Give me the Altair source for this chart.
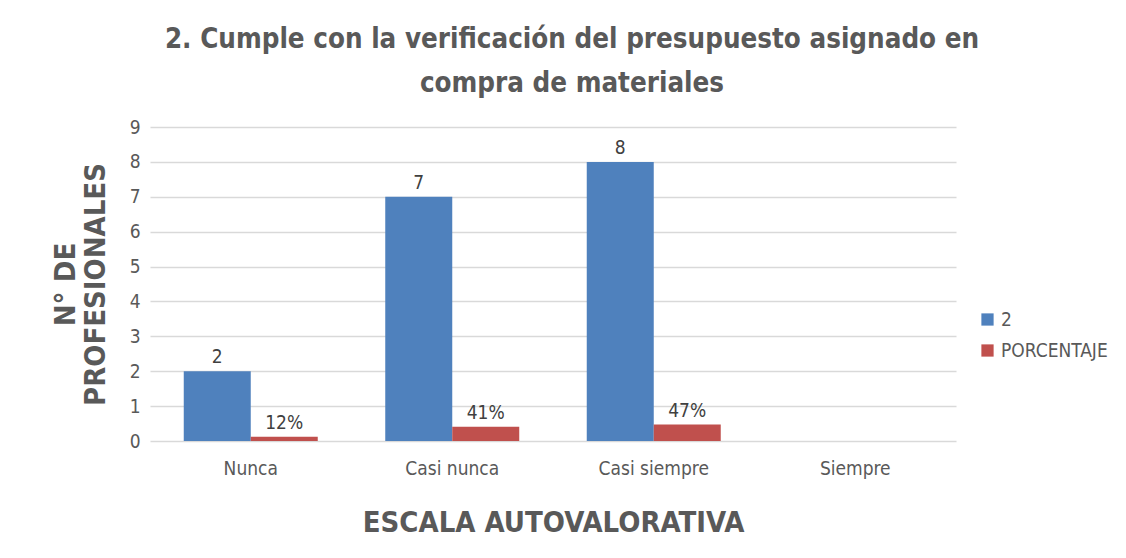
import altair as alt
import pandas as pd

categories = ["Nunca", "Casi nunca", "Casi siempre", "Siempre"]
series_names = ["2", "PORCENTAJE"]
values_count = [2, 7, 8, None]
values_pct = [0.12, 0.41, 0.47, None]
y_ticks = [0, 1, 2, 3, 4, 5, 6, 7, 8, 9]

rows = []
for c, v in zip(categories, values_count):
    if v is not None:
        rows.append({"cat": c, "serie": series_names[0], "val": v, "label": str(v)})
for c, v in zip(categories, values_pct):
    if v is not None:
        rows.append({"cat": c, "serie": series_names[1], "val": v, "label": f"{round(v*100)}%"})
df = pd.DataFrame(rows)

FONT = "DejaVu Sans Condensed, sans-serif"
GRAY = "#595959"

x_enc = alt.X("cat:N", sort=categories,
              scale=alt.Scale(domain=categories, paddingInner=0.335, paddingOuter=0.1675),
              axis=alt.Axis(title="ESCALA AUTOVALORATIVA", labelAngle=0, tickSize=0, domain=False,
                            labelPadding=18, labelFontSize=19, labelColor=GRAY,
                            titleFontSize=29, titleFontWeight="bold", titleColor=GRAY,
                            titlePadding=30, labelFont=FONT, titleFont=FONT))
y_enc = alt.Y("val:Q", scale=alt.Scale(domain=[0, 9], nice=False),
              axis=alt.Axis(title=["N° DE", "PROFESIONALES"], values=y_ticks, tickCount=10, tickSize=0, domain=False,
                            labelPadding=10, labelFontSize=19, labelColor=GRAY,
                            gridColor="#D9D9D9", gridWidth=1.5,
                            titleFontSize=29, titleFontWeight="bold", titleColor=GRAY,
                            titlePadding=19, titleLineHeight=30, labelFont=FONT, titleFont=FONT))
color_enc = alt.Color("serie:N", sort=series_names,
                      scale=alt.Scale(domain=series_names, range=["#4F81BD", "#C0504D"]),
                      legend=alt.Legend(title=None, orient="none", legendX=828, legendY=183,
                                        symbolType="square", symbolSize=150, symbolStrokeWidth=0,
                                        labelFontSize=19, labelColor=GRAY, labelFont=FONT,
                                        rowPadding=11, labelOffset=4, labelLimit=200))
xoff = alt.XOffset("serie:N", sort=series_names, scale=alt.Scale(domain=series_names, paddingInner=0, paddingOuter=0))

bars = alt.Chart(df).mark_bar().encode(x=x_enc, y=y_enc, color=color_enc, xOffset=xoff)
texts = alt.Chart(df).mark_text(baseline="bottom", dy=-4, fontSize=19, color="#404040", font=FONT).encode(
    x=x_enc, y=y_enc, xOffset=xoff, text="label:N")

chart = alt.layer(bars, texts).properties(
    width=806, height=314,
    title=alt.TitleParams(text=["2. Cumple con la verificación del presupuesto asignado en", "compra de materiales"],
                          fontSize=27.5, fontWeight="bold", color=GRAY, font=FONT, lineHeight=44,
                          anchor="middle", dx=19, offset=21),
    padding={"left": 142, "top": 119, "right": 160, "bottom": 115},
    autosize=alt.AutoSizeParams(type="none"),
    background="white",
).configure_view(stroke=None)

chart.save("out.html", embed_options={"renderer": "svg", "actions": False})
